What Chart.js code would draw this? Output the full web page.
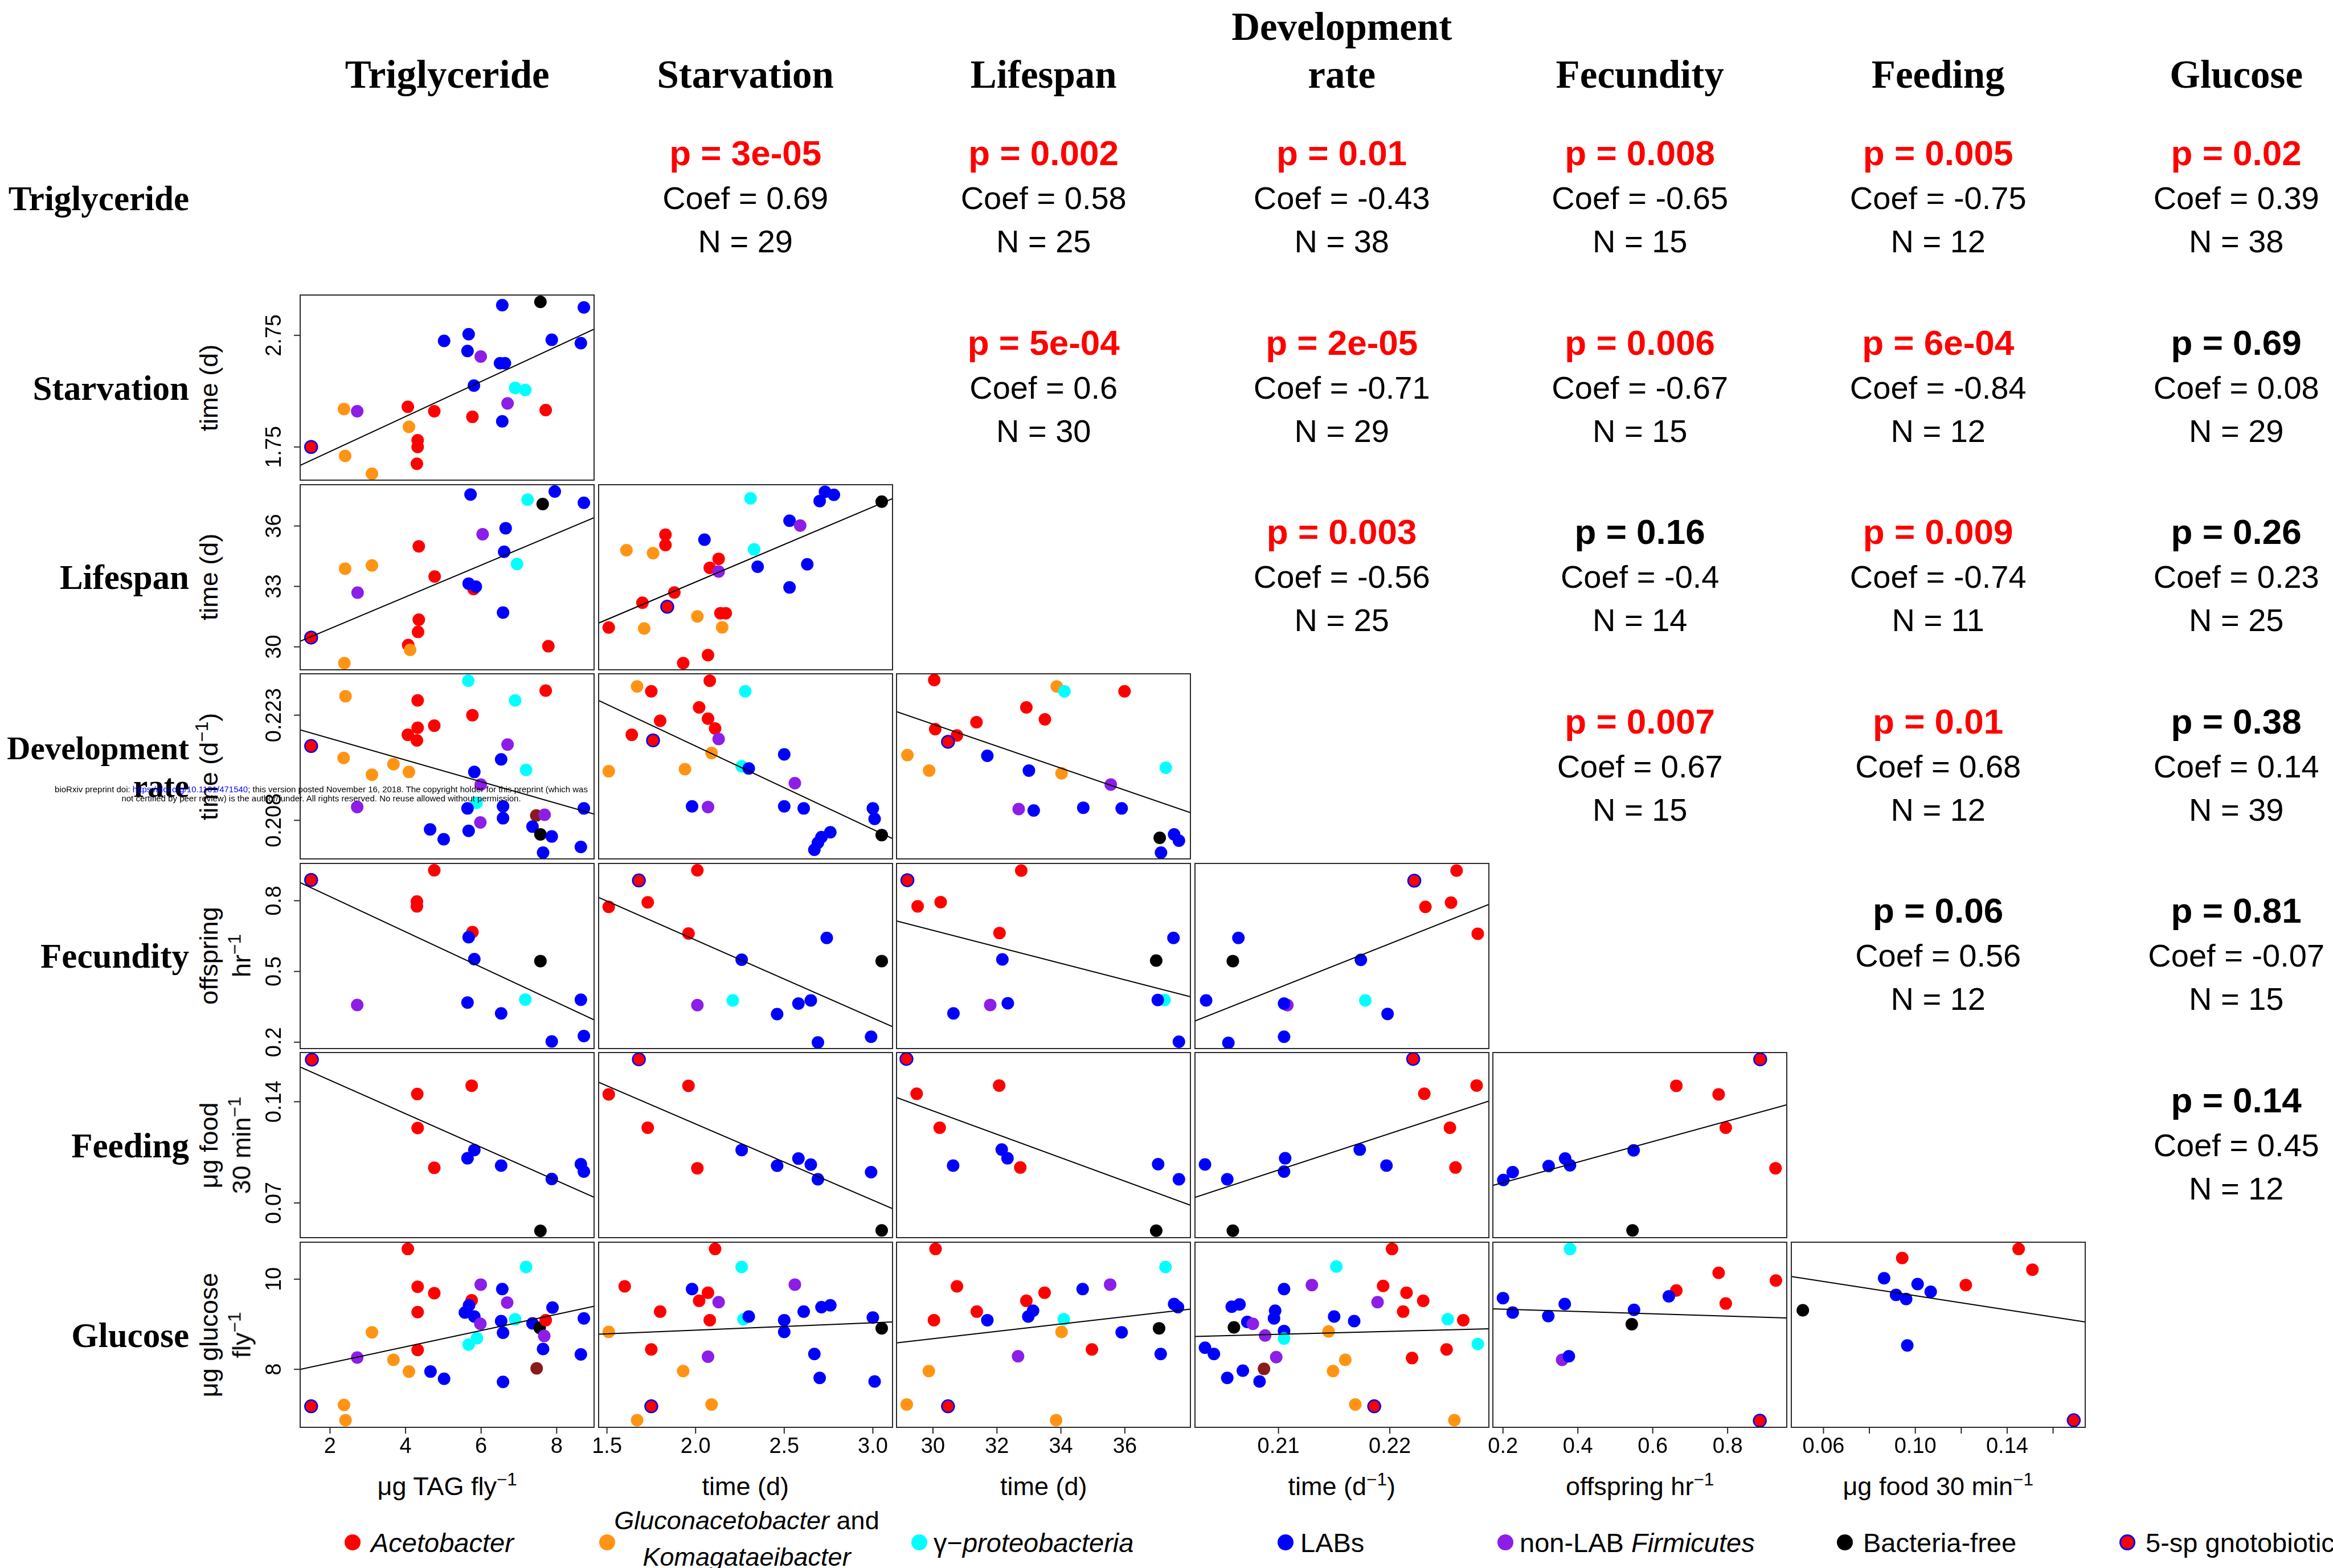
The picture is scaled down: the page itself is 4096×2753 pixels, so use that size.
<!DOCTYPE html>
<html>
<head>
<meta charset="utf-8">
<title>Microbiome phenotype correlations</title>
<script src="https://cdn.jsdelivr.net/npm/chart.js@4.4.1/dist/chart.umd.min.js"></script>
<style>
html, body { margin:0; padding:0; background:#fff; }
#page { position:relative; width:4096px; height:2753px; overflow:hidden; font-family:"Liberation Sans", Arial, sans-serif; color:#000; }
#page div { position:absolute; white-space:nowrap; line-height:1; }
canvas { position:absolute; }
.serif { font-family:"Liberation Serif","Times New Roman",serif; font-weight:bold; }
.c { transform:translate(-50%,-50%); }
.r { transform:translate(-100%,-50%); }
.l { transform:translate(0,-50%); }
.rot { transform:translate(-50%,-50%) rotate(-90deg); }
sup { font-size:0.7em; vertical-align:0; position:relative; top:-0.55em; }
</style>
</head>
<body>
<div id="page"></div>
<script>
// axis ranges per variable (R pads data range by 4%)
const tgRange = [1.21, 8.99];
const starvRange = [1.453, 3.111];
const lifeRange = [28.86, 38.05];
const devRange = [0.2025, 0.2289];
const fecRange = [0.173, 0.958];
const feedRange = [0.046, 0.174];
const gluRange = [6.713, 10.82];
const ranges = [tgRange, starvRange, lifeRange, devRange, fecRange, feedRange, gluRange];

const varNames = ['Triglyceride', 'Starvation', 'Lifespan', 'Development rate', 'Fecundity', 'Feeding', 'Glucose'];

// tick marks
const xTickVals = [[2, 4, 6, 8], [1.5, 2, 2.5, 3], [30, 32, 34, 36], [0.21, 0.22], [0.2, 0.4, 0.6, 0.8], [0.06, 0.08, 0.10, 0.12, 0.14, 0.16]];
const xTickText = [['2', '4', '6', '8'], ['1.5', '2.0', '2.5', '3.0'], ['30', '32', '34', '36'], ['0.21', '0.22'], ['0.2', '0.4', '0.6', '0.8'], ['0.06', '', '0.10', '', '0.14', '']];
const yTickVals = [null, [1.75, 2.75], [30, 33, 36], [0.208, 0.223], [0.2, 0.5, 0.8], [0.07, 0.14], [8, 10]];
const yTickText = [null, ['1.75', '2.75'], ['30', '33', '36'], ['0.208', '0.223'], ['0.2', '0.5', '0.8'], ['0.07', '0.14'], ['8', '10']];

// groups: A Acetobacter, G Gluconacetobacter/Komagataeibacter, P gamma-proteobacteria,
// L LABs, F non-LAB Firmicutes, B bacteria-free, S 5-sp gnotobiotic, M unlisted
const groupColors = {A: '#ff0000', G: '#ff9414', P: '#00ffff', L: '#0000ff', F: '#8c1ee8', B: '#000000', S: '#ff0000', M: '#8b1a1a'};

// [x, y, group] per panel, named yVsX
const starvVsTg = [[1.50,1.75,'S'],[2.37,2.09,'G'],[2.72,2.07,'F'],[2.40,1.67,'G'],[3.11,1.51,'G'],[4.06,2.11,'A'],[4.09,1.93,'G'],[4.32,1.81,'A'],[4.32,1.75,'A'],[4.30,1.60,'A'],[4.76,2.07,'A'],[5.02,2.70,'L'],[5.67,2.76,'L'],[5.64,2.61,'L'],[5.77,2.02,'A'],[5.81,2.30,'L'],[5.99,2.56,'F'],[6.56,3.02,'L'],[6.50,2.50,'L'],[6.63,2.50,'L'],[6.90,2.28,'P'],[7.17,2.26,'P'],[6.70,2.14,'F'],[6.56,1.98,'L'],[7.57,3.05,'B'],[7.71,2.08,'A'],[7.87,2.71,'L'],[8.72,3.00,'L'],[8.64,2.68,'L']];
const lifeVsTg = [[1.50,30.46,'S'],[2.40,33.88,'G'],[3.11,34.04,'G'],[2.73,32.69,'F'],[2.38,29.19,'G'],[4.35,34.99,'A'],[4.77,33.49,'A'],[4.35,31.35,'A'],[4.33,30.74,'A'],[4.07,30.09,'A'],[4.12,29.85,'G'],[5.72,37.56,'L'],[5.80,32.87,'A'],[5.67,33.14,'L'],[5.86,32.99,'L'],[6.04,35.59,'F'],[6.65,35.89,'L'],[6.61,34.72,'L'],[6.95,34.11,'P'],[6.58,31.70,'L'],[7.23,37.31,'P'],[7.63,37.09,'B'],[7.95,37.71,'L'],[8.72,37.15,'L'],[7.78,30.03,'A']];
const devVsTg = [[1.50,0.2186,'S'],[2.41,0.2257,'G'],[2.36,0.2169,'G'],[3.11,0.2145,'G'],[3.68,0.2160,'G'],[4.09,0.2149,'G'],[2.72,0.2099,'F'],[4.32,0.2251,'A'],[4.32,0.2212,'A'],[4.06,0.2202,'A'],[4.30,0.2194,'A'],[4.76,0.2215,'A'],[5.66,0.2279,'P'],[5.77,0.2230,'A'],[6.90,0.2251,'P'],[7.71,0.2265,'A'],[6.70,0.2188,'F'],[6.53,0.2167,'L'],[7.19,0.2152,'P'],[5.82,0.2149,'L'],[5.99,0.2131,'F'],[5.88,0.2105,'P'],[5.64,0.2097,'L'],[6.58,0.2100,'L'],[6.58,0.2083,'L'],[5.98,0.2077,'F'],[7.46,0.2087,'M'],[7.68,0.2088,'F'],[8.72,0.2097,'L'],[4.65,0.2067,'L'],[5.01,0.2053,'L'],[5.67,0.2065,'L'],[7.36,0.2071,'L'],[7.57,0.2060,'B'],[7.87,0.2057,'L'],[8.64,0.2042,'L'],[7.64,0.2034,'L']];
const fecVsTg = [[1.50,0.888,'S'],[4.76,0.929,'A'],[4.30,0.797,'A'],[4.30,0.776,'A'],[5.77,0.667,'A'],[5.67,0.645,'L'],[5.82,0.552,'L'],[7.57,0.544,'B'],[2.72,0.358,'F'],[5.64,0.368,'L'],[7.17,0.381,'P'],[8.64,0.380,'L'],[6.53,0.322,'L'],[7.87,0.203,'L'],[8.72,0.226,'L']];
const feedVsTg = [[1.52,0.1691,'S'],[4.31,0.1453,'A'],[5.75,0.1511,'A'],[4.32,0.1218,'A'],[4.76,0.0943,'A'],[5.64,0.1009,'L'],[5.82,0.1066,'L'],[6.53,0.0958,'L'],[7.87,0.0866,'L'],[8.64,0.0968,'L'],[8.72,0.0917,'L'],[7.57,0.0507,'B']];
const gluVsTg = [[1.50,7.18,'S'],[2.37,7.21,'G'],[2.41,6.87,'G'],[3.11,8.82,'G'],[3.68,8.21,'G'],[4.09,7.95,'G'],[2.72,8.26,'F'],[4.06,10.67,'A'],[4.32,9.83,'A'],[4.76,9.69,'A'],[4.32,9.27,'A'],[4.32,8.43,'A'],[4.66,7.95,'L'],[5.02,7.79,'L'],[5.75,9.53,'A'],[5.68,9.42,'L'],[5.57,9.26,'L'],[5.82,9.17,'L'],[5.99,9.88,'F'],[5.98,9.01,'F'],[5.67,8.55,'P'],[5.89,8.69,'P'],[6.56,9.78,'L'],[6.69,9.48,'F'],[6.53,9.07,'L'],[6.58,8.81,'L'],[6.58,7.72,'L'],[7.19,10.27,'P'],[6.90,9.11,'P'],[7.36,9.02,'L'],[7.55,8.92,'B'],[7.71,9.09,'A'],[7.67,8.74,'F'],[7.64,8.45,'L'],[7.47,8.02,'M'],[7.89,9.37,'L'],[8.72,9.13,'L'],[8.64,8.33,'L']];
const lifeVsStarv = [[2.31,37.37,'P'],[2.73,37.70,'L'],[2.78,37.55,'L'],[2.70,37.24,'L'],[3.05,37.21,'B'],[2.53,36.26,'L'],[2.59,36.02,'F'],[1.83,35.57,'A'],[1.83,35.05,'A'],[1.61,34.80,'G'],[1.76,34.65,'G'],[2.05,35.32,'L'],[2.33,34.84,'P'],[2.13,34.37,'A'],[2.08,33.92,'A'],[2.13,33.74,'F'],[2.35,33.98,'L'],[2.63,34.10,'L'],[2.53,32.95,'L'],[1.88,32.70,'A'],[1.70,32.19,'A'],[1.84,31.99,'S'],[2.01,31.51,'G'],[2.14,31.67,'A'],[2.17,31.67,'A'],[1.51,30.96,'A'],[1.71,30.91,'G'],[2.15,30.97,'G'],[2.07,29.59,'A'],[1.93,29.19,'A']];
const devVsStarv = [[1.67,0.2271,'G'],[2.08,0.2279,'A'],[1.75,0.2264,'A'],[2.28,0.2264,'P'],[2.02,0.2241,'A'],[2.07,0.2225,'A'],[1.80,0.2222,'A'],[2.11,0.2211,'A'],[1.64,0.2202,'A'],[1.76,0.2194,'S'],[2.13,0.2196,'F'],[2.09,0.2176,'G'],[2.50,0.2174,'L'],[1.51,0.2150,'G'],[1.94,0.2153,'G'],[2.26,0.2157,'P'],[2.30,0.2154,'L'],[2.56,0.2133,'F'],[1.98,0.2100,'L'],[2.07,0.2099,'F'],[2.50,0.2100,'L'],[2.61,0.2097,'L'],[3.00,0.2097,'L'],[3.01,0.2082,'L'],[3.05,0.2059,'B'],[2.76,0.2063,'L'],[2.71,0.2056,'L'],[2.69,0.2048,'L'],[2.67,0.2038,'L']];
const devVsLife = [[30.04,0.2280,'A'],[33.87,0.2271,'G'],[34.11,0.2264,'P'],[35.99,0.2264,'A'],[32.92,0.2241,'A'],[33.50,0.2224,'A'],[31.36,0.2220,'A'],[30.07,0.2210,'A'],[30.75,0.2201,'A'],[30.47,0.2192,'S'],[29.20,0.2173,'G'],[29.88,0.2151,'G'],[31.70,0.2172,'L'],[33.00,0.2151,'L'],[34.02,0.2147,'G'],[35.56,0.2131,'F'],[37.28,0.2155,'P'],[32.68,0.2096,'F'],[33.15,0.2094,'L'],[34.70,0.2098,'L'],[35.90,0.2097,'L'],[37.09,0.2055,'B'],[37.54,0.2060,'L'],[37.69,0.2051,'L'],[37.13,0.2034,'L']];
const fecVsStarv = [[2.01,0.929,'A'],[1.68,0.886,'S'],[1.73,0.793,'A'],[1.51,0.774,'A'],[1.96,0.661,'A'],[2.26,0.550,'L'],[2.74,0.642,'L'],[3.05,0.544,'B'],[2.01,0.357,'F'],[2.21,0.377,'P'],[2.58,0.364,'L'],[2.65,0.377,'L'],[2.46,0.319,'L'],[2.69,0.199,'L'],[2.99,0.223,'L']];
const fecVsLife = [[29.20,0.887,'S'],[32.76,0.928,'A'],[29.52,0.776,'A'],[30.24,0.794,'A'],[32.08,0.663,'A'],[32.17,0.551,'L'],[37.52,0.642,'L'],[36.98,0.546,'B'],[37.24,0.379,'P'],[37.03,0.379,'L'],[31.79,0.358,'F'],[32.34,0.365,'L'],[30.64,0.322,'L'],[37.69,0.202,'L']];
const fecVsDev = [[0.2260,0.928,'A'],[0.2222,0.885,'S'],[0.2232,0.774,'A'],[0.2255,0.792,'A'],[0.2279,0.660,'A'],[0.2064,0.642,'L'],[0.2059,0.544,'B'],[0.2174,0.549,'L'],[0.2035,0.377,'L'],[0.2108,0.357,'F'],[0.2105,0.364,'L'],[0.2178,0.377,'P'],[0.2198,0.320,'L'],[0.2055,0.197,'L'],[0.2105,0.223,'L']];
const feedVsStarv = [[1.68,0.1693,'S'],[1.96,0.1510,'A'],[1.51,0.1451,'A'],[1.73,0.1220,'A'],[2.01,0.0940,'A'],[2.26,0.1066,'L'],[2.46,0.0957,'L'],[2.58,0.1007,'L'],[2.65,0.0965,'L'],[2.69,0.0864,'L'],[2.99,0.0913,'L'],[3.05,0.0510,'B']];
const feedVsLife = [[29.17,0.1696,'S'],[29.49,0.1455,'A'],[32.07,0.1512,'A'],[30.21,0.1220,'A'],[32.15,0.1069,'L'],[32.33,0.1009,'L'],[30.63,0.0958,'L'],[32.73,0.0945,'A'],[37.04,0.0968,'L'],[37.69,0.0864,'L'],[36.98,0.0508,'B']];
const feedVsDev = [[0.2221,0.1696,'S'],[0.2278,0.1512,'A'],[0.2231,0.1455,'A'],[0.2254,0.1220,'A'],[0.2259,0.0945,'A'],[0.2034,0.0966,'L'],[0.2054,0.0864,'L'],[0.2106,0.1009,'L'],[0.2105,0.0917,'L'],[0.2173,0.1069,'L'],[0.2197,0.0958,'L'],[0.2059,0.0508,'B']];
const feedVsFec = [[0.887,0.1693,'S'],[0.663,0.1510,'A'],[0.776,0.1451,'A'],[0.795,0.1220,'A'],[0.928,0.0940,'A'],[0.201,0.0859,'L'],[0.226,0.0913,'L'],[0.322,0.0955,'L'],[0.366,0.1007,'L'],[0.379,0.0960,'L'],[0.549,0.1064,'L'],[0.546,0.0510,'B']];
const gluVsStarv = [[2.11,10.67,'A'],[2.26,10.27,'P'],[1.60,9.84,'A'],[1.98,9.78,'L'],[2.56,9.88,'F'],[2.07,9.70,'A'],[2.02,9.52,'A'],[2.13,9.49,'F'],[1.80,9.28,'A'],[2.27,9.11,'P'],[2.30,9.17,'L'],[2.08,9.09,'A'],[2.61,9.28,'L'],[2.71,9.38,'L'],[2.76,9.42,'L'],[2.50,9.09,'L'],[2.50,8.83,'L'],[3.00,9.15,'L'],[3.05,8.91,'B'],[1.51,8.83,'G'],[1.75,8.44,'A'],[2.07,8.28,'F'],[2.67,8.34,'L'],[1.93,7.96,'G'],[2.70,7.81,'L'],[3.01,7.73,'L'],[1.75,7.18,'S'],[2.09,7.22,'G'],[1.67,6.87,'G']];
const gluVsLife = [[30.08,10.67,'A'],[37.27,10.27,'P'],[30.75,9.84,'A'],[35.54,9.88,'F'],[34.68,9.78,'L'],[33.49,9.70,'A'],[32.92,9.52,'A'],[37.54,9.45,'L'],[37.66,9.38,'L'],[31.37,9.28,'A'],[33.13,9.30,'L'],[32.98,9.17,'L'],[30.03,9.09,'A'],[31.70,9.09,'L'],[34.09,9.11,'P'],[34.02,8.83,'G'],[37.07,8.91,'B'],[35.90,8.82,'L'],[34.97,8.44,'A'],[32.66,8.29,'F'],[37.12,8.34,'L'],[29.87,7.96,'G'],[29.18,7.22,'G'],[30.47,7.18,'S'],[33.85,6.87,'G']];
const gluVsDev = [[0.2202,10.67,'A'],[0.2152,10.28,'P'],[0.2130,9.87,'F'],[0.2105,9.78,'L'],[0.2194,9.85,'A'],[0.2215,9.70,'A'],[0.2230,9.52,'A'],[0.2189,9.49,'F'],[0.2212,9.28,'A'],[0.2058,9.39,'L'],[0.2065,9.44,'L'],[0.2097,9.30,'L'],[0.2096,9.13,'L'],[0.2072,9.05,'L'],[0.2077,9.01,'F'],[0.2060,8.93,'B'],[0.2150,9.17,'L'],[0.2168,9.07,'L'],[0.2252,9.11,'P'],[0.2266,9.09,'A'],[0.2145,8.84,'G'],[0.2105,8.85,'L'],[0.2088,8.75,'F'],[0.2105,8.68,'P'],[0.2279,8.56,'P'],[0.2251,8.44,'A'],[0.2034,8.48,'L'],[0.2042,8.34,'L'],[0.2098,8.27,'F'],[0.2220,8.25,'A'],[0.2160,8.21,'G'],[0.2149,7.96,'G'],[0.2068,7.97,'L'],[0.2087,8.01,'M'],[0.2054,7.81,'L'],[0.2083,7.73,'L'],[0.2169,7.22,'G'],[0.2186,7.18,'S'],[0.2258,6.87,'G']];
const gluVsFec = [[0.379,10.67,'P'],[0.776,10.14,'A'],[0.929,9.97,'A'],[0.663,9.75,'A'],[0.643,9.62,'L'],[0.795,9.46,'A'],[0.200,9.58,'L'],[0.226,9.26,'L'],[0.365,9.45,'L'],[0.321,9.18,'L'],[0.550,9.32,'L'],[0.544,9.00,'B'],[0.358,8.21,'F'],[0.376,8.29,'L'],[0.886,6.86,'S']];
const gluVsFeed = [[0.1450,10.67,'A'],[0.0943,10.47,'A'],[0.1510,10.21,'A'],[0.1220,9.87,'A'],[0.0864,10.02,'L'],[0.1010,9.89,'L'],[0.1067,9.72,'L'],[0.0916,9.65,'L'],[0.0960,9.56,'L'],[0.0510,9.31,'B'],[0.0965,8.53,'L'],[0.1690,6.87,'S']];

// fitted line: y at left and right edge of panel
const panels = [
  {row: 1, col: 0, pts: starvVsTg, fit: [1.585, 2.805]},
  {row: 2, col: 0, pts: lifeVsTg, fit: [30.28, 36.41]},
  {row: 2, col: 1, pts: lifeVsStarv, fit: [31.18, 37.36]},
  {row: 3, col: 0, pts: devVsTg, fit: [0.2209, 0.2089]},
  {row: 3, col: 1, pts: devVsStarv, fit: [0.2251, 0.2054]},
  {row: 3, col: 2, pts: devVsLife, fit: [0.2235, 0.2091]},
  {row: 4, col: 0, pts: fecVsTg, fit: [0.877, 0.295]},
  {row: 4, col: 1, pts: fecVsStarv, fit: [0.814, 0.266]},
  {row: 4, col: 2, pts: fecVsLife, fit: [0.714, 0.393]},
  {row: 4, col: 3, pts: fecVsDev, fit: [0.290, 0.784]},
  {row: 5, col: 0, pts: feedVsTg, fit: [0.1640, 0.0739]},
  {row: 5, col: 1, pts: feedVsStarv, fit: [0.1535, 0.0661]},
  {row: 5, col: 2, pts: feedVsLife, fit: [0.1429, 0.0684]},
  {row: 5, col: 3, pts: feedVsDev, fit: [0.0738, 0.1404]},
  {row: 5, col: 4, pts: feedVsFec, fit: [0.0821, 0.1379]},
  {row: 6, col: 0, pts: gluVsTg, fit: [8.00, 9.40]},
  {row: 6, col: 1, pts: gluVsStarv, fit: [8.78, 9.05]},
  {row: 6, col: 2, pts: gluVsLife, fit: [8.585, 9.334]},
  {row: 6, col: 3, pts: gluVsDev, fit: [8.73, 8.90]},
  {row: 6, col: 4, pts: gluVsFec, fit: [9.34, 9.14]},
  {row: 6, col: 5, pts: gluVsFeed, fit: [10.06, 9.05]}
];

// upper triangle statistics
const statPairs = [[0,1],[0,2],[0,3],[0,4],[0,5],[0,6],[1,2],[1,3],[1,4],[1,5],[1,6],[2,3],[2,4],[2,5],[2,6],[3,4],[3,5],[3,6],[4,5],[4,6],[5,6]];
const pValues = ['3e-05','0.002','0.01','0.008','0.005','0.02','5e-04','2e-05','0.006','6e-04','0.69','0.003','0.16','0.009','0.26','0.007','0.01','0.38','0.06','0.81','0.14'];
const coefs = ['0.69','0.58','-0.43','-0.65','-0.75','0.39','0.6','-0.71','-0.67','-0.84','0.08','-0.56','-0.4','-0.74','0.23','0.67','0.68','0.14','0.56','-0.07','0.45'];
const nObs = [29, 25, 38, 15, 12, 38, 30, 29, 15, 12, 29, 25, 14, 11, 25, 15, 12, 39, 12, 15, 12];

const xTitles = ['&mu;g TAG fly<sup>&minus;1</sup>', 'time (d)', 'time (d)', 'time (d<sup>&minus;1</sup>)', 'offspring hr<sup>&minus;1</sup>', '&mu;g food 30 min<sup>&minus;1</sup>'];
const yTitles = [null, ['time (d)'], ['time (d)'], ['time (d<sup>&minus;1</sup>)'], ['offspring', 'hr<sup>&minus;1</sup>'], ['&mu;g food', '30 min<sup>&minus;1</sup>'], ['&mu;g glucose', 'fly<sup>&minus;1</sup>']];

const legendItems = [
  {g: 'A', html: '<i>Acetobacter</i>'},
  {g: 'G', html: '<i>Gluconacetobacter</i> and', html2: '<i>Komagataeibacter</i>'},
  {g: 'P', html: '&gamma;&minus;<i>proteobacteria</i>'},
  {g: 'L', html: 'LABs'},
  {g: 'F', html: 'non-LAB <i>Firmicutes</i>'},
  {g: 'B', html: 'Bacteria-free'},
  {g: 'S', html: '5-sp gnotobiotic'}
];

// layout (px)
const L0 = 527.2, COLP = 523.5, PW = 516, T0 = 518, ROWP = 332.6, PH = 325;
const page = document.getElementById('page');

function addText(html, x, y, cls, style) {
  const d = document.createElement('div');
  d.className = cls;
  d.innerHTML = html;
  d.style.left = x + 'px';
  d.style.top = y + 'px';
  if (style) d.style.cssText += style;
  page.appendChild(d);
  return d;
}

const rAxes = {
  id: 'rAxes',
  afterDatasetsDraw(chart, args, o) {
    const ctx = chart.ctx, a = chart.chartArea, x = chart.scales.x, y = chart.scales.y;
    ctx.save();
    ctx.strokeStyle = '#2a2a2a';
    ctx.lineWidth = 2;
    ctx.strokeRect(a.left, a.top, a.right - a.left, a.bottom - a.top);
    ctx.fillStyle = '#000';
    ctx.font = '38px "Liberation Sans", Arial, sans-serif';
    ctx.textAlign = 'center';
    ctx.textBaseline = 'middle';
    if (o.xTicks) {
      o.xTicks.forEach((v, k) => {
        const px = x.getPixelForValue(v);
        ctx.beginPath(); ctx.moveTo(px, a.bottom); ctx.lineTo(px, a.bottom + 11); ctx.stroke();
        if (o.xText[k]) ctx.fillText(o.xText[k], px, a.bottom + 35);
      });
    }
    if (o.yTicks) {
      o.yTicks.forEach((v, k) => {
        const py = y.getPixelForValue(v);
        ctx.beginPath(); ctx.moveTo(a.left, py); ctx.lineTo(a.left - 11, py); ctx.stroke();
        ctx.save();
        ctx.translate(a.left - 44, py);
        ctx.rotate(-Math.PI / 2);
        ctx.fillText(o.yText[k], 0, 0);
        ctx.restore();
      });
    }
    ctx.restore();
  }
};

const colorOf = c => (c.raw ? groupColors[c.raw.g] : '#000');

panels.forEach(p => {
  const xr = ranges[p.col], yr = ranges[p.row];
  const left = Math.round(L0 + COLP * p.col), top = Math.round(T0 + ROWP * (p.row - 1));
  // generous transparent margins so tick labels near corners are not cut
  const pl = p.col === 0 ? 110 : 32, pb = p.row === 6 ? 62 : 32, pt = 32, pr = 32;
  const cv = document.createElement('canvas');
  cv.width = PW + pl + pr;
  cv.height = PH + pt + pb;
  cv.style.left = (left - pl) + 'px';
  cv.style.top = (top - pt) + 'px';
  cv.style.width = cv.width + 'px';
  cv.style.height = cv.height + 'px';
  page.appendChild(cv);

  new Chart(cv, {
    type: 'scatter',
    data: {
      datasets: [
        {
          data: [{x: xr[0], y: p.fit[0]}, {x: xr[1], y: p.fit[1]}],
          showLine: true, borderColor: '#000', borderWidth: 2, pointRadius: 0
        },
        {
          data: p.pts.map(d => ({x: d[0], y: d[1], g: d[2]})),
          pointRadius: 11,
          pointBackgroundColor: colorOf,
          pointBorderColor: c => (c.raw && c.raw.g === 'S' ? '#0000ff' : colorOf(c)),
          pointBorderWidth: c => (c.raw && c.raw.g === 'S' ? 2.5 : 0),
          clip: false
        }
      ]
    },
    options: {
      responsive: false,
      animation: false,
      devicePixelRatio: 1,
      events: [],
      layout: {autoPadding: false, padding: {left: pl, right: pr, top: pt, bottom: pb}},
      scales: {
        x: {type: 'linear', min: xr[0], max: xr[1], display: false},
        y: {type: 'linear', min: yr[0], max: yr[1], display: false}
      },
      plugins: {
        legend: {display: false},
        tooltip: {enabled: false},
        rAxes: {
          xTicks: p.row === 6 ? xTickVals[p.col] : null,
          xText: xTickText[p.col],
          yTicks: p.col === 0 ? yTickVals[p.row] : null,
          yText: yTickText[p.row]
        }
      }
    },
    plugins: [rAxes]
  });
});

// column headers
const colCenter = j => L0 + COLP * j + PW / 2;
const rowCenter = r => T0 + PH / 2 + ROWP * (r - 1);
varNames.forEach((name, j) => {
  if (name === 'Development rate') {
    addText('Development', colCenter(j), 47, 'c serif', 'font-size:69px');
    addText('rate', colCenter(j), 131, 'c serif', 'font-size:69px');
  } else {
    addText(name, colCenter(j), 131, 'c serif', 'font-size:69px');
  }
});

// row labels
varNames.forEach((name, r) => {
  if (name === 'Development rate') {
    addText('Development', 332, rowCenter(r) - 33, 'r serif', 'font-size:57px');
    addText('rate', 332, rowCenter(r) + 33, 'r serif', 'font-size:57px');
  } else {
    addText(name, 332, rowCenter(r), 'r serif', 'font-size:61px');
  }
});

// statistics text
statPairs.forEach((rc, k) => {
  const cx = colCenter(rc[1]), cy = rowCenter(rc[0]);
  const sig = parseFloat(pValues[k]) < 0.05;
  addText('p = ' + pValues[k], cx, cy - 79, 'c', 'font-weight:bold;font-size:62px;color:' + (sig ? '#ff0000' : '#000'));
  addText('Coef = ' + coefs[k], cx, cy, 'c', 'font-size:56px');
  addText('N = ' + nObs[k], cx, cy + 76, 'c', 'font-size:56px');
});

// axis titles
xTitles.forEach((t, j) => addText(t, colCenter(j), 2609, 'c', 'font-size:45px'));
yTitles.forEach((t, r) => {
  if (!t) return;
  addText(t[0], 366, rowCenter(r), 'rot', 'font-size:45px');
  if (t[1]) addText(t[1], 424, rowCenter(r), 'rot', 'font-size:45px');
});

// legend
const legendDotX = [619, 1066, 1614, 2257, 2643, 3239, 3735];
const legendTextX = [651, 1311, 1639, 2283, 2668, 3271, 3767];
legendItems.forEach((it, k) => {
  const dot = document.createElement('div');
  const rad = 14;
  dot.style.cssText = 'left:' + (legendDotX[k] - rad) + 'px;top:' + (2708 - rad) + 'px;width:' + (2 * rad) + 'px;height:' + (2 * rad) +
    'px;border-radius:50%;box-sizing:border-box;background:' + groupColors[it.g] + ';' + (it.g === 'S' ? 'border:3px solid #0000ff;' : '');
  page.appendChild(dot);
  if (it.html2) {
    addText(it.html, legendTextX[k], 2669, 'c', 'font-size:45px');
    addText(it.html2, legendTextX[k], 2733, 'c', 'font-size:45px');
  } else {
    addText(it.html, legendTextX[k], 2708, 'l', 'font-size:47px');
  }
});

// preprint stamp
addText('bioRxiv preprint doi: <span style="color:#0000ff">https://doi.org/10.1101/471540</span>; this version posted November 16, 2018. The copyright holder for this preprint (which was', 564, 1385, 'c', 'font-size:15px');
addText('not certified by peer review) is the author/funder. All rights reserved. No reuse allowed without permission.', 564, 1401, 'c', 'font-size:15px');
</script>
</body>
</html>
